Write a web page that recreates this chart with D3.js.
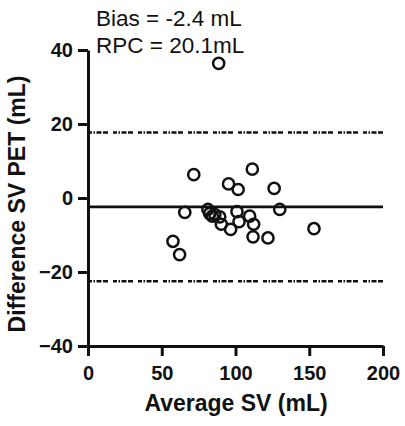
<!DOCTYPE html>
<html>
<head>
<meta charset="utf-8">
<script src="https://cdn.jsdelivr.net/npm/d3@7"></script>
<style>
  body { margin: 0; background: #fff; }
  svg { font-family: "Liberation Sans", Arial, sans-serif; }
</style>
</head>
<body>
<svg width="405" height="426"></svg>
<script>
// Bland-Altman: average SV vs difference SV (PET)
var avgSV  = [88.6, 71.7, 111.4, 95.3, 101.8, 126.2, 65.6, 81.3, 82.5, 84.3, 86.0, 89.3, 90.4, 96.7, 101.0, 102.4, 109.6, 112.3, 111.9, 122.0, 130.0, 153.2, 57.6, 62.1];
var diffSV = [36.4, 6.3, 7.8, 3.8, 2.3, 2.6, -3.9, -3.1, -4.2, -4.9, -4.5, -5.1, -7.1, -8.5, -3.7, -6.4, -4.9, -7.1, -10.5, -10.8, -3.1, -8.3, -11.7, -15.3];
var bias = -2.4;
var rpc = 20.1;
var xTicks = [0, 50, 100, 150, 200];
var yTicks = [-40, -20, 0, 20, 40];

var plotL = 88, plotR = 383, plotT = 50, plotB = 346;

var svg = d3.select("svg");
var x = d3.scaleLinear().domain([0, 200]).range([plotL, plotR]);
var y = d3.scaleLinear().domain([-40, 40]).range([plotB, plotT]);

// limits of agreement + bias
[bias + rpc, bias - rpc].forEach(function(v) {
  svg.append("line")
    .attr("x1", x(0)).attr("x2", x(200))
    .attr("y1", y(v)).attr("y2", y(v))
    .attr("stroke", "#111").attr("stroke-width", 2.3)
    .attr("stroke-dasharray", "4,1.5,1.5,1.5,5,1.5,5,5");
});
svg.append("line")
  .attr("x1", x(0)).attr("x2", x(200))
  .attr("y1", y(bias)).attr("y2", y(bias))
  .attr("stroke", "#111").attr("stroke-width", 2.6);

// points
svg.append("g").selectAll("circle")
  .data(avgSV)
  .enter().append("circle")
  .attr("cx", function(d) { return x(d); })
  .attr("cy", function(d, i) { return y(diffSV[i]); })
  .attr("r", 5.6)
  .attr("fill", "none")
  .attr("stroke", "#111")
  .attr("stroke-width", 2.5);

// axes
var xAxis = svg.append("g")
  .attr("transform", "translate(0," + plotB + ")")
  .call(d3.axisBottom(x).tickValues(xTicks).tickSize(10).tickPadding(10).tickSizeOuter(0));
var yAxis = svg.append("g")
  .attr("transform", "translate(" + plotL + ",0)")
  .call(d3.axisLeft(y).tickValues(yTicks).tickSize(10).tickPadding(5).tickSizeOuter(0));

[xAxis, yAxis].forEach(function(a) {
  a.select(".domain").attr("stroke", "#111").attr("stroke-width", 3);
  a.selectAll(".tick line").attr("stroke", "#111").attr("stroke-width", 3);
  a.selectAll(".tick text")
    .attr("fill", "#111")
    .style("font-size", "20px")
    .style("font-weight", "bold")
    .style("font-family", "Liberation Sans, Arial, sans-serif");
});

// axis titles
svg.append("text")
  .attr("x", 236).attr("y", 411)
  .attr("text-anchor", "middle")
  .style("font-size", "23px").style("font-weight", "bold")
  .attr("fill", "#111")
  .text("Average SV (mL)");

svg.append("text")
  .attr("transform", "translate(25,204) rotate(-90)")
  .attr("text-anchor", "middle")
  .style("font-size", "23px").style("font-weight", "bold")
  .attr("fill", "#111")
  .text("Difference SV PET (mL)");

// annotation
svg.append("text")
  .attr("x", 96).attr("y", 26)
  .style("font-size", "22.5px")
  .attr("fill", "#111")
  .text("Bias = -2.4 mL");
svg.append("text")
  .attr("x", 96).attr("y", 53)
  .style("font-size", "22.5px")
  .attr("fill", "#111")
  .text("RPC = 20.1mL");
</script>
</body>
</html>
